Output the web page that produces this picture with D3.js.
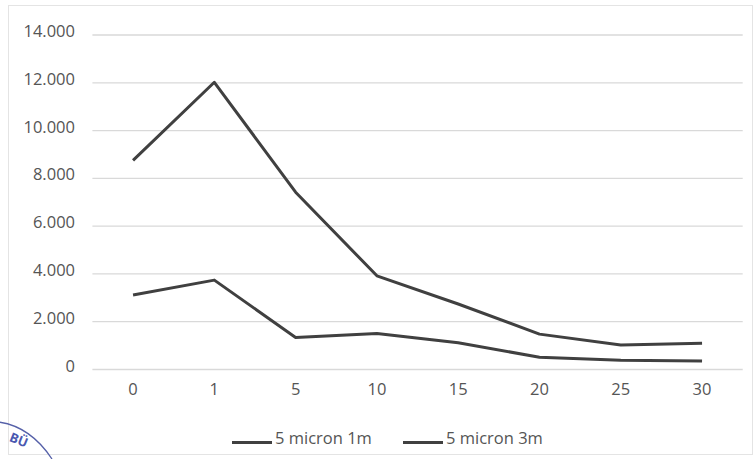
<!DOCTYPE html>
<html>
<head>
<meta charset="utf-8">
<script src="https://cdn.jsdelivr.net/npm/d3@7"></script>
<style>
  html, body { margin: 0; padding: 0; background: #ffffff; }
  svg { display: block; }
  text { font-family: "Open Sans", "Noto Sans", sans-serif; fill: #555555; }
</style>
</head>
<body>
<svg id="chart" width="755" height="459"></svg>
<script>
const categories = ["0", "1", "5", "10", "15", "20", "25", "30"];
const series1m = [8730, 12000, 7400, 3900, 2720, 1460, 1000, 1080];
const series3m = [3100, 3720, 1320, 1490, 1100, 490, 370, 330];
const seriesNames = ["5 micron 1m", "5 micron 3m"];
const yTicks = [0, 2000, 4000, 6000, 8000, 10000, 12000, 14000];

const svg = d3.select("#chart");

// chart area border
svg.append("rect")
  .attr("x", 8.5).attr("y", 5.5)
  .attr("width", 744).attr("height", 449)
  .attr("fill", "#ffffff")
  .attr("stroke", "#e4e4e4").attr("stroke-width", 1);

const x = d3.scaleBand().domain(categories).range([92.4, 742.7]).padding(0);
const y = d3.scaleLinear().domain([0, 14000]).range([369, 34.5]);

const fmt = v => d3.format(",")(v).replace(/,/g, ".");

// gridlines
const grid = svg.append("g")
  .attr("transform", `translate(92.4,0)`)
  .call(d3.axisLeft(y).tickValues(yTicks).tickSize(-(742.7 - 92.4)).tickFormat(""));
grid.select(".domain").remove();
grid.selectAll(".tick line").attr("stroke", "#d9d9d9").attr("stroke-width", 1.3);

// y labels
svg.append("g").selectAll("text")
  .data(yTicks).join("text")
  .attr("x", 75).attr("y", d => y(d) - 4)
  .attr("text-anchor", "end")
  .attr("dominant-baseline", "central")
  .attr("font-size", "16.5px")
  .text(d => fmt(d));

// x labels
const xAxis = svg.append("g")
  .attr("transform", `translate(0,${y(0)})`)
  .call(d3.axisBottom(x).tickSize(0).tickPadding(0));
xAxis.select(".domain").remove();
xAxis.selectAll(".tick text")
  .attr("y", 19).attr("dy", 0)
  .attr("dominant-baseline", "central")
  .attr("font-size", "16.5px")
  .attr("fill", "#555555");

// lines
const line = d3.line()
  .x((d, i) => x(categories[i]) + x.bandwidth() / 2)
  .y(d => y(d));

[series1m, series3m].forEach(s => {
  svg.append("path")
    .datum(s)
    .attr("d", line)
    .attr("fill", "none")
    .attr("stroke", "#404040")
    .attr("stroke-width", 3)
    .attr("stroke-linejoin", "round");
});

// legend
const legendItems = [
  { name: seriesNames[0], x0: 232 },
  { name: seriesNames[1], x0: 403 }
];
const lg = svg.append("g");
legendItems.forEach(it => {
  lg.append("line")
    .attr("x1", it.x0).attr("x2", it.x0 + 40)
    .attr("y1", 442.5).attr("y2", 442.5)
    .attr("stroke", "#404040").attr("stroke-width", 3);
  lg.append("text")
    .attr("x", it.x0 + 43).attr("y", 437)
    .attr("dominant-baseline", "central")
    .attr("font-size", "16.5px")
    .text(it.name);
});

// partial seal in the bottom-left corner
const seal = svg.append("g");
seal.append("path")
  .attr("d", "M -2 422 Q 30 426 52 459")
  .attr("fill", "none").attr("stroke", "#5560a8").attr("stroke-width", 1.3);
seal.append("text")
  .attr("x", 8).attr("y", 443)
  .attr("transform", "rotate(22 14 443)")
  .attr("font-size", "13px").attr("font-weight", "bold")
  .style("fill", "#4a58b0")
  .text("BÜ");
</script>
</body>
</html>
